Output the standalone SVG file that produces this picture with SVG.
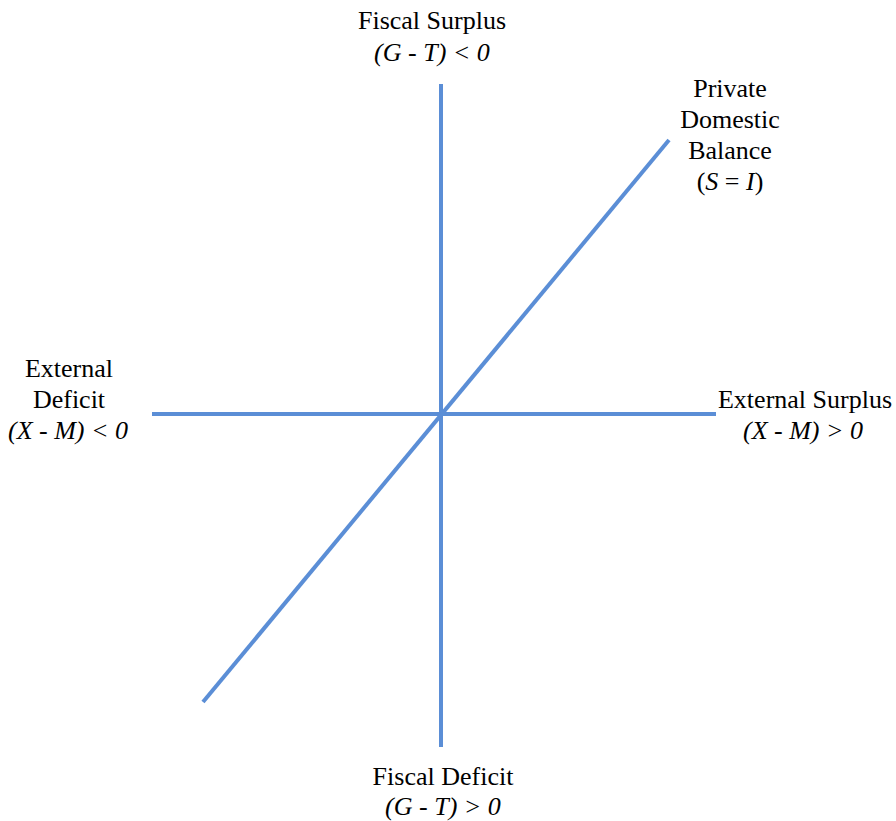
<svg xmlns="http://www.w3.org/2000/svg" width="896" height="821" viewBox="0 0 896 821">
<style>
.ax{stroke:#5B8ED6;stroke-width:4;fill:none}
.i{font-style:italic}
</style>
<rect width="896" height="821" fill="#fff"/>
<g id="connectors">
<line class="ax" x1="441" y1="84" x2="441" y2="747"/>
<line class="ax" x1="152" y1="414" x2="716" y2="414"/>
<line class="ax" x1="203" y1="702" x2="669" y2="140"/>
</g>
<g font-family="Liberation Serif" font-size="26" fill="#000" text-anchor="middle">
<g id="fiscal-surplus">
<text x="432" y="29">Fiscal Surplus</text>
<text x="432" y="61" class="i">(G - T) &lt; 0</text>
</g>
<g id="private-domestic">
<text x="730" y="97">Private</text>
<text x="730" y="128">Domestic</text>
<text x="730" y="159">Balance</text>
<text x="730" y="190">(<tspan class="i">S</tspan> = <tspan class="i">I</tspan>)</text>
</g>
<g id="external-deficit">
<text x="69" y="377">External</text>
<text x="69" y="408">Deficit</text>
<text x="68" y="439" class="i">(X - M) &lt; 0</text>
</g>
<g id="external-surplus">
<text x="805" y="408">External Surplus</text>
<text x="803" y="439" class="i">(X - M) &gt; 0</text>
</g>
<g id="fiscal-deficit">
<text x="443" y="785">Fiscal Deficit</text>
<text x="443" y="815" class="i">(G - T) &gt; 0</text>
</g>
</g>
</svg>
